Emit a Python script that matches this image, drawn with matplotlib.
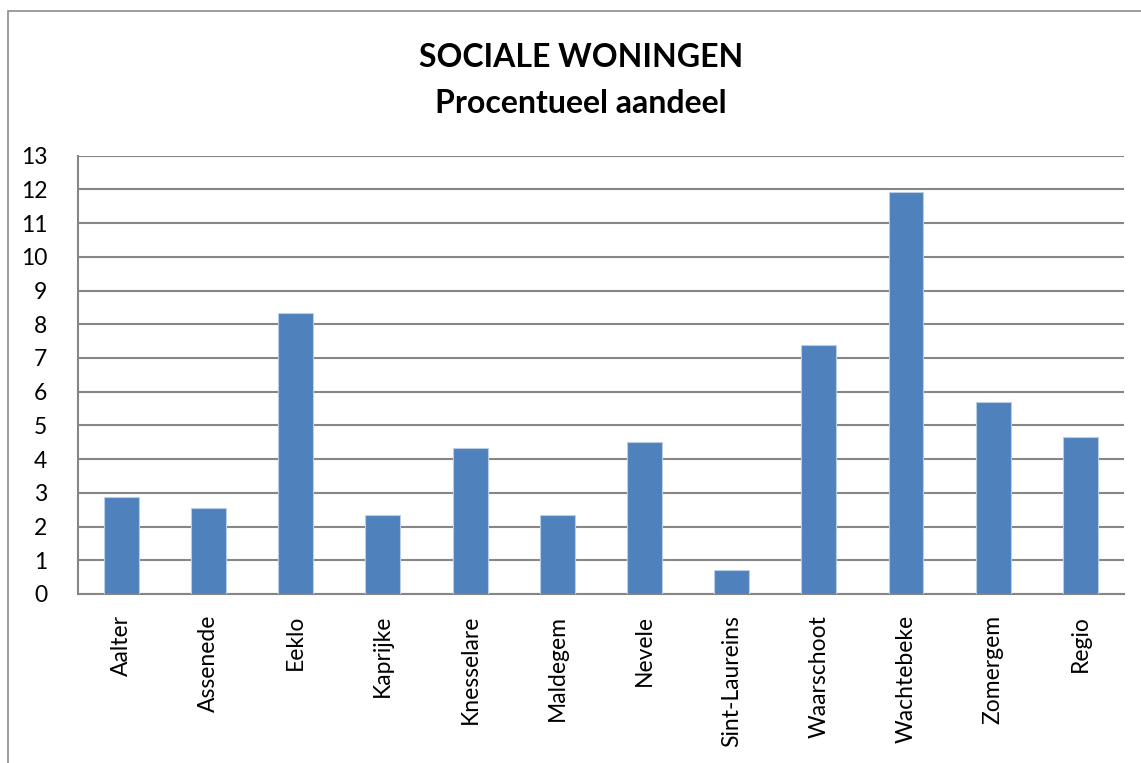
import matplotlib
matplotlib.use("Agg")
import matplotlib.pyplot as plt
from matplotlib.patches import Rectangle

gemeenten = ["Aalter", "Assenede", "Eeklo", "Kaprijke", "Knesselare", "Maldegem",
             "Nevele", "Sint-Laureins", "Waarschoot", "Wachtebeke", "Zomergem", "Regio"]
aandeel = [2.87, 2.55, 8.32, 2.35, 4.34, 2.35, 4.51, 0.70, 7.37, 11.92, 5.70, 4.66]
y_ticks = list(range(0, 14))

plt.rcParams['font.family'] = ['Lato', 'DejaVu Sans']

fig = plt.figure(figsize=(11.41, 7.63), dpi=100)
# chart frame (runs off the right/bottom edge like the screenshot)
fig.patches.append(Rectangle((8 / 1141, -0.05), 1.2, 1 - 11 / 763 + 0.05,
                             transform=fig.transFigure, fill=False,
                             edgecolor="#8c8c8c", linewidth=1.2))

ax = fig.add_axes([0.0681, 0.2215, 0.917, 0.5745])
x = range(len(gemeenten))
ax.bar(x, aandeel, width=0.4, color="#4f81bd", edgecolor="#b9cde5", linewidth=0.8, zorder=3)

ax.set_ylim(0, 13)
ax.set_xlim(-0.5, len(gemeenten) - 0.5)
ax.set_yticks(y_ticks)
ax.set_xticks(list(x))
ax.set_xticklabels(gemeenten, rotation=90, ha="center", va="top")
ax.tick_params(axis="both", length=0, labelsize=16.5, colors="black")
ax.tick_params(axis="x", pad=15)
ax.tick_params(axis="y", pad=22)
for lbl in ax.get_yticklabels():
    lbl.set_horizontalalignment("right")

ax.yaxis.grid(True, color="#868686", linewidth=1.5, zorder=0)
ax.set_axisbelow(True)
for side in ["top", "right"]:
    ax.spines[side].set_visible(False)
for side in ["left", "bottom"]:
    ax.spines[side].set_color("#868686")
    ax.spines[side].set_linewidth(1.5)

fig.text(0.509, 0.925, "SOCIALE WONINGEN", ha="center", va="center",
         fontsize=23, fontweight="bold")
fig.text(0.509, 0.865, "Procentueel aandeel", ha="center", va="center",
         fontsize=23, fontweight="bold")

fig.savefig("out.png", dpi=100)
